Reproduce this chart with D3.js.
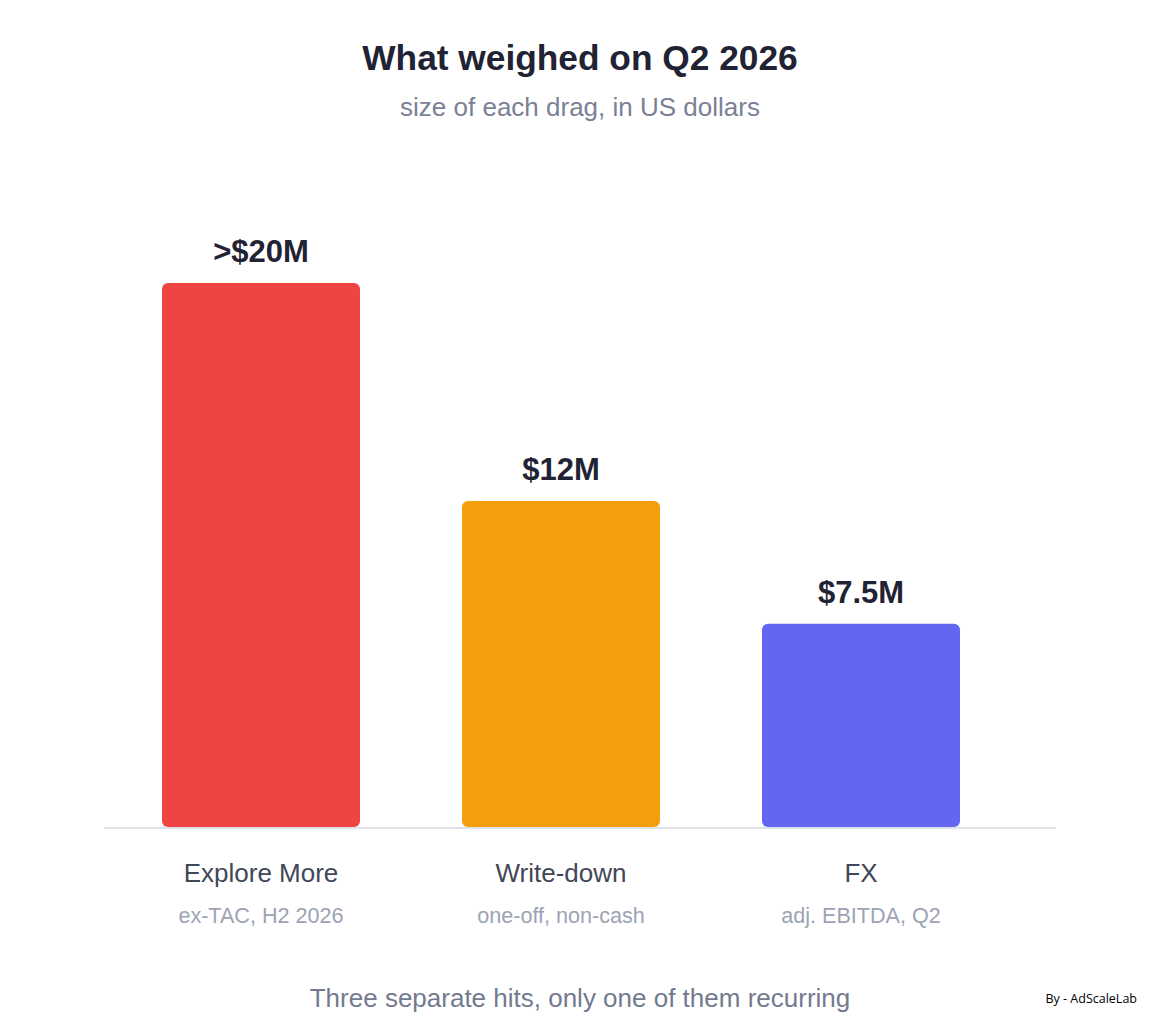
<!DOCTYPE html>
<html>
<head>
<meta charset="utf-8">
<script src="https://cdn.jsdelivr.net/npm/d3@7"></script>
<style>
  html, body { margin: 0; padding: 0; background: #fff; }
  svg text { font-family: "Liberation Sans", Arial, sans-serif; }
</style>
</head>
<body>
<div id="chart"></div>
<script>
    "use strict";

    // Data
    var categories = ["Explore More", "Write-down", "FX"];
    var subLabels = ["ex-TAC, H2 2026", "one-off, non-cash", "adj. EBITDA, Q2"];
    var values = [20, 12, 7.5];
    var valueLabels = [">$20M", "$12M", "$7.5M"];
    var barColors = ["#ef4444", "#f59e0b", "#6366f1"];

    // Layout
    var width = 1160;
    var height = 1023;
    var baseY = 828;
    var topY = 283;

    var svg = d3.select("#chart").append("svg")
        .attr("width", width)
        .attr("height", height);

    var x = d3.scaleBand()
        .domain(categories)
        .range([111, 1011])
        .paddingInner(0.34)
        .paddingOuter(0.17);

    var y = d3.scaleLinear()
        .domain([0, 20])
        .range([baseY, topY]);

    //Title and subtitle
    svg.append("text")
        .attr("x", 580).attr("y", 70)
        .attr("text-anchor", "middle")
        .style("font-size", "35.3px").style("font-weight", "bold")
        .style("fill", "#1f2333")
        .text("What weighed on Q2 2026");

    svg.append("text")
        .attr("x", 580).attr("y", 116)
        .attr("text-anchor", "middle")
        .style("font-size", "26px")
        .style("fill", "#7a8194")
        .text("size of each drag, in US dollars");

    var rows = categories.map(function (c, i) {
        return { name: c, sub: subLabels[i], value: values[i], label: valueLabels[i], color: barColors[i] };
    });

    //Bars
    svg.selectAll("rect.bar")
        .data(rows)
        .enter().append("rect")
        .attr("class", "bar")
        .attr("x", function (d) { return x(d.name); })
        .attr("y", function (d) { return y(d.value); })
        .attr("width", x.bandwidth())
        .attr("height", function (d) { return y(0) - y(d.value) - 1; })
        .attr("rx", 6).attr("ry", 6)
        .style("fill", function (d) { return d.color; });

    //Baseline
    svg.append("line")
        .attr("x1", 104).attr("x2", 1056)
        .attr("y1", baseY).attr("y2", baseY)
        .style("stroke", "#dfe2e8")
        .style("stroke-width", 2);

    //Value labels
    svg.selectAll("text.value")
        .data(rows)
        .enter().append("text")
        .attr("class", "value")
        .attr("x", function (d) { return x(d.name) + x.bandwidth() / 2; })
        .attr("y", function (d) { return y(d.value) - 21; })
        .attr("text-anchor", "middle")
        .style("font-size", "31px").style("font-weight", "bold")
        .style("fill", "#1f2333")
        .text(function (d) { return d.label; });

    //Category labels
    svg.selectAll("text.cat")
        .data(rows)
        .enter().append("text")
        .attr("class", "cat")
        .attr("x", function (d) { return x(d.name) + x.bandwidth() / 2; })
        .attr("y", 882)
        .attr("text-anchor", "middle")
        .style("font-size", "26px")
        .style("fill", "#3f4758")
        .text(function (d) { return d.name; });

    svg.selectAll("text.sub")
        .data(rows)
        .enter().append("text")
        .attr("class", "sub")
        .attr("x", function (d) { return x(d.name) + x.bandwidth() / 2; })
        .attr("y", 923)
        .attr("text-anchor", "middle")
        .style("font-size", "21.6px")
        .style("fill", "#9ca3b4")
        .text(function (d) { return d.sub; });

    //Footer
    svg.append("text")
        .attr("x", 580).attr("y", 1007)
        .attr("text-anchor", "middle")
        .style("font-size", "26px")
        .style("fill", "#737a8f")
        .text("Three separate hits, only one of them recurring");

    svg.append("text")
        .attr("x", 1137).attr("y", 1003)
        .attr("text-anchor", "end")
        .style("font-family", "'Open Sans', sans-serif")
        .style("font-size", "12.5px")
        .style("fill", "#000")
        .text("By - AdScaleLab");
</script>
</body>
</html>
